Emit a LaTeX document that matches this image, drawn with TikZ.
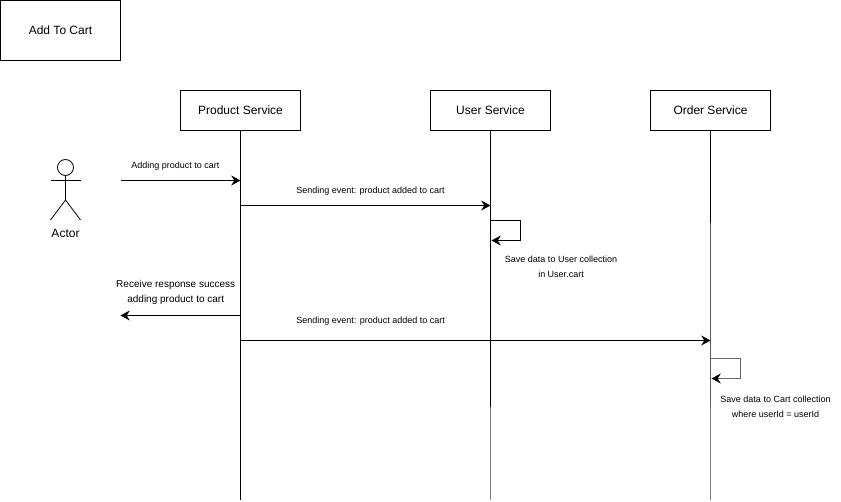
\documentclass[tikz,border=0pt]{standalone}
\usepackage{fontspec}
\setmainfont{Liberation Sans}
\usetikzlibrary{arrows.meta, positioning}
\tikzset{
	svcbox/.style={rectangle, draw=black, outer sep=0pt, line width=0.75pt, minimum width=90pt, minimum height=30pt, text centered, font=\fontsize{9}{11}\selectfont},
	titlebox/.style={svcbox, minimum height=45pt},
	lifeline/.style={line width=0.75pt},
	lifemid/.style={line width=0.9pt, black!65},
	lifelow/.style={line width=1.15pt, black!50},
	msgarrow/.style={-{Stealth[length=7pt, width=7.5pt, inset=2.4pt, black]}, line width=0.75pt},
	msglabel/.style={align=center, inner sep=0pt, font=\fontsize{6.75}{11.25}\selectfont},
	reslabel/.style={msglabel, font=\fontsize{7.5}{11.25}\selectfont},
	actorline/.style={line width=0.6pt},
}

\begin{document}
\begin{tikzpicture}[x=0.75pt, y=0.75pt]
	\useasboundingbox (0,0) rectangle (841,-502);
	\node[titlebox] (title) at (60.5,-30.5) {Add To Cart};
	\node[svcbox] (product) at (240.5,-110.5) {Product Service};
	\node[svcbox, right=97.5pt of product] (user) {User Service};
	\node[svcbox, right=75pt of user] (order) {Order Service};
	% lifelines
	\coordinate (bottom) at (0,-500);
	\coordinate (split) at (0,-407);
	\coordinate (orderSplit) at (0,-223);
	\draw[lifeline] (product) -- (product |- bottom);
	\draw[lifeline] (user) -- (user |- split);
	\draw[lifeline] (order) -- (order |- orderSplit);
	\draw[lifemid] (order |- orderSplit) -- (order |- split);
	\draw[lifelow] (user |- split) -- (user |- bottom);
	\draw[lifelow] (order |- split) -- (order |- bottom);
	% actor
	\node[circle, draw=black, actorline, minimum size=12pt, inner sep=0pt] (head) at (65.5,-167.5) {};
	\coordinate (hip) at (65.5,-200);
	\coordinate (armL) at (50.5,-180);
	\coordinate (armR) at (80.5,-180);
	\coordinate (legL) at (50.5,-220);
	\coordinate (legR) at (80.5,-220);
	\draw[actorline] (head) -- (hip);
	\draw[actorline] (armL) -- (armR);
	\draw[actorline] (legL) -- (hip) -- (legR);
	\node[inner sep=0pt, font=\fontsize{9}{11}\selectfont] (actor) at (65.5,-233.5) {Actor};
	% messages
	\coordinate (addStart) at (120.5,-180.5);
	\coordinate (resEnd) at (120.5,-315.5);
	\coordinate (evtUser) at (240.5,-205.5);
	\coordinate (evtOrder) at (240.5,-340.5);
	\draw[msgarrow] (addStart) -- node[pos=0.458, above=7.5pt, msglabel] (addLabel) {Adding product to cart} (addStart -| product);
	\draw[msgarrow] (evtUser) -- node[pos=0.52, above=7.5pt, msglabel] (evtUserLabel) {Sending event: product added to cart} (evtUser -| user);
	\draw[msgarrow] (resEnd -| product) -- node[pos=0.54, above=8pt, reslabel] (resLabel) {Receive response success\\adding product to cart} (resEnd);
	\draw[msgarrow] (evtOrder) -- node[pos=0.277, above=11pt, msglabel] (evtOrderLabel) {Sending event: product added to cart} (evtOrder -| order);
	% self calls
	\coordinate (userA) at (490.5,-220.5);
	\coordinate (userB) at (491.5,-240.5);
	\coordinate (orderA) at (710.5,-358.5);
	\coordinate (orderB) at (711.5,-378.5);
	\draw[msgarrow] (userA) -- ++(30,0) -- ++(0,-20) -- (userB);
	\draw[msgarrow, black!60, line width=0.95pt] (orderA) -- ++(30,0) -- ++(0,-20) -- (orderB);
	\node[msglabel] (userSave) at (561,-266.5) {Save data to User collection\\in User.cart};
	\node[msglabel] (orderSave) at (775.5,-406.5) {Save data to Cart collection\\where userId = userId};
\end{tikzpicture}
\end{document}
